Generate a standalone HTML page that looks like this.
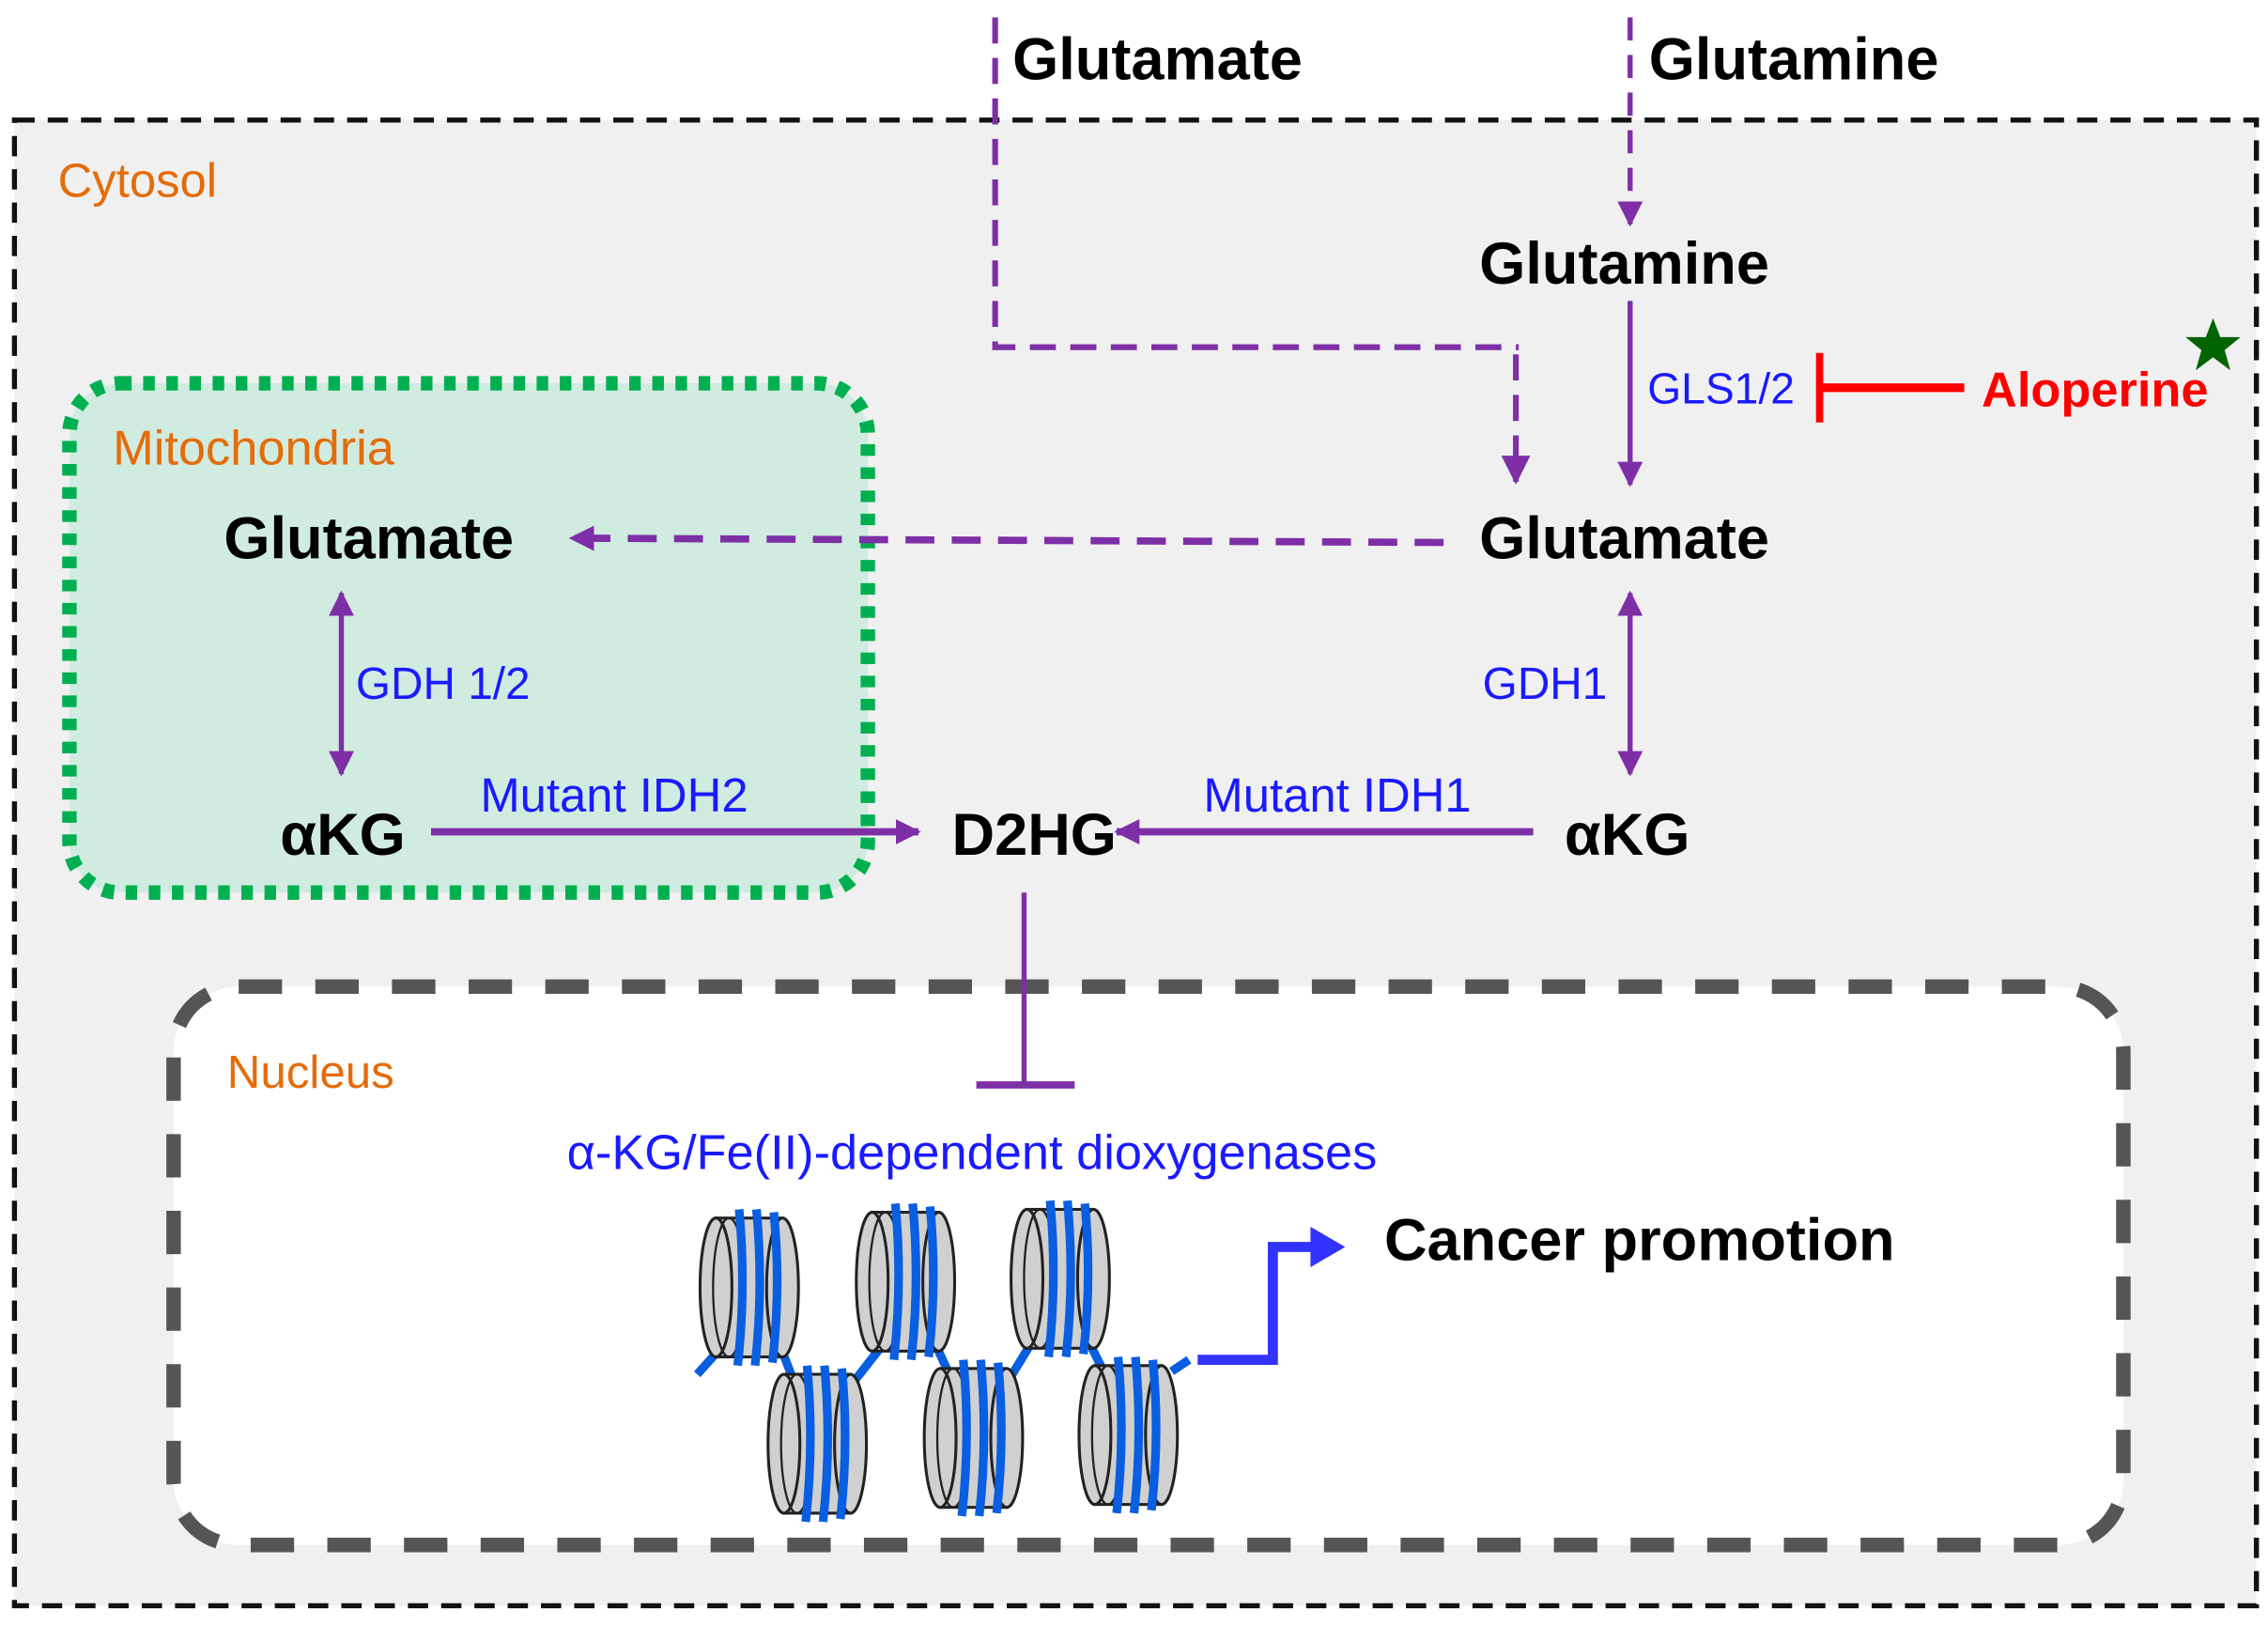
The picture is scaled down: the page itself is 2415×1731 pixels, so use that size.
<!DOCTYPE html>
<html><head><meta charset="utf-8"><style>
html,body{margin:0;padding:0;background:#fff;}
svg{display:block;}
text{font-family:"Liberation Sans",sans-serif;}
</style></head><body>
<svg width="2415" height="1731" viewBox="0 0 1568 1124" preserveAspectRatio="none" xmlns="http://www.w3.org/2000/svg">
<defs>
<marker id="ap" viewBox="0 0 10 10" refX="9" refY="5" markerWidth="5" markerHeight="5" orient="auto-start-reverse" markerUnits="strokeWidth"><path d="M0,0 L10,5 L0,10 z" fill="#7e2fa6"/></marker>
<marker id="ap2" viewBox="0 0 10 10" refX="9" refY="5" markerWidth="3.5" markerHeight="3.5" orient="auto-start-reverse" markerUnits="strokeWidth"><path d="M0,0 L10,5 L0,10 z" fill="#7e2fa6"/></marker>
<g id="cyl">
<rect x="0" y="0" width="46" height="96" fill="#d0d0d0" stroke="#222" stroke-width="2"/>
<ellipse cx="0" cy="48" rx="11" ry="48" fill="#d0d0d0" stroke="#222" stroke-width="2"/>
<ellipse cx="46" cy="48" rx="11" ry="48" fill="#d0d0d0" stroke="#222" stroke-width="2"/>
<ellipse cx="9" cy="48" rx="11" ry="48" fill="none" stroke="#222" stroke-width="1.5"/>
<path d="M16,-6 Q21,48 15,102 M28,-6 Q33,48 27,102 M40,-4 Q45,48 39,100" stroke="#0a5ee0" stroke-width="6" fill="none"/>
</g>
</defs>
<rect x="10" y="83" width="1550" height="1027" fill="#f0f0f0" stroke="#111" stroke-width="3.5" stroke-dasharray="14,9"/>
<text x="40" y="136" font-size="33" fill="#e46c0a">Cytosol</text>
<text x="700" y="55" font-size="41" font-weight="bold" fill="#000">Glutamate</text>
<text x="1140" y="55" font-size="41" font-weight="bold" fill="#000">Glutamine</text>
<path d="M688,12 L688,240 L1050,240" fill="none" stroke="#7e2fa6" stroke-width="4" stroke-dasharray="18,10"/>
<line x1="1048" y1="245" x2="1048" y2="333" stroke="#7e2fa6" stroke-width="4" stroke-dasharray="18,10" marker-end="url(#ap)"/>
<line x1="1127" y1="12" x2="1127" y2="155" stroke="#7e2fa6" stroke-width="3.5" stroke-dasharray="16,10" marker-end="url(#ap)"/>
<text x="1123" y="196" font-size="41" font-weight="bold" text-anchor="middle">Glutamine</text>
<line x1="1127" y1="208" x2="1127" y2="335" stroke="#7e2fa6" stroke-width="3.5" marker-end="url(#ap)"/>
<text x="1139" y="279" font-size="30" fill="#1a1aff">GLS1/2</text>
<line x1="1258" y1="268" x2="1358" y2="268" stroke="#f00" stroke-width="6"/>
<line x1="1258" y1="244" x2="1258" y2="292" stroke="#f00" stroke-width="5"/>
<text x="1370" y="281" font-size="34" font-weight="bold" fill="#f00">Aloperine</text>
<polygon points="1530,220 1535,233 1549,233 1538,242 1542,256 1530,247 1518,256 1522,242 1511,233 1525,233" fill="#006400"/>
<rect x="48" y="265" width="552" height="352" rx="35" fill="#d0ebe0" stroke="#00b050" stroke-width="10" stroke-dasharray="8,8"/>
<text x="78" y="321" font-size="34" fill="#e46c0a">Mitochondria</text>
<text x="1123" y="386" font-size="41" font-weight="bold" text-anchor="middle">Glutamate</text>
<line x1="998" y1="375" x2="395" y2="372" stroke="#7e2fa6" stroke-width="5" stroke-dasharray="20,12" marker-end="url(#ap2)"/>
<text x="255" y="386" font-size="41" font-weight="bold" text-anchor="middle">Glutamate</text>
<line x1="236" y1="410" x2="236" y2="535" stroke="#7e2fa6" stroke-width="3.5" marker-start="url(#ap)" marker-end="url(#ap)"/>
<text x="246" y="483" font-size="31" fill="#1a1aff">GDH 1/2</text>
<line x1="1127" y1="410" x2="1127" y2="535" stroke="#7e2fa6" stroke-width="3.5" marker-start="url(#ap)" marker-end="url(#ap)"/>
<text x="1025" y="483" font-size="31" fill="#1a1aff">GDH1</text>
<text x="237" y="591" font-size="41" font-weight="bold" text-anchor="middle">αKG</text>
<text x="715" y="591" font-size="41" font-weight="bold" text-anchor="middle">D2HG</text>
<text x="1125" y="591" font-size="41" font-weight="bold" text-anchor="middle">αKG</text>
<line x1="298" y1="575" x2="635" y2="575" stroke="#7e2fa6" stroke-width="5" marker-end="url(#ap2)"/>
<line x1="1060" y1="575" x2="772" y2="575" stroke="#7e2fa6" stroke-width="5" marker-end="url(#ap2)"/>
<text x="332" y="561" font-size="33" fill="#1a1aff">Mutant IDH2</text>
<text x="832" y="561" font-size="33" fill="#1a1aff">Mutant IDH1</text>
<rect x="120" y="682" width="1348" height="386" rx="45" fill="#fff" stroke="#555" stroke-width="10" stroke-dasharray="30,23"/>
<text x="157" y="752" font-size="32" fill="#e46c0a">Nucleus</text>
<line x1="708" y1="617" x2="708" y2="750" stroke="#7e2fa6" stroke-width="3.5"/>
<line x1="675" y1="750" x2="743" y2="750" stroke="#7e2fa6" stroke-width="5"/>
<text x="672" y="808" font-size="34" fill="#1a1aff" text-anchor="middle">α-KG/Fe(II)-dependent dioxygenases</text>
<path d="M482,950 L500,930 M540,932 L550,958 M588,958 L610,930 M648,932 L660,958 M695,958 L712,930 M755,932 L768,958 M810,948 L822,940" stroke="#0a5ee0" stroke-width="6" fill="none"/>
<use href="#cyl" x="495" y="842"/>
<use href="#cyl" x="603" y="838"/>
<use href="#cyl" x="710" y="836"/>
<use href="#cyl" x="542" y="950"/>
<use href="#cyl" x="650" y="946"/>
<use href="#cyl" x="757" y="944"/>
<path d="M828,940 L880,940 L880,862 L910,862" fill="none" stroke="#3333ff" stroke-width="7"/>
<polygon points="906,848 930,862 906,876" fill="#3333ff"/>
<text x="957" y="871" font-size="41" font-weight="bold">Cancer promotion</text>
</svg>
</body></html>
